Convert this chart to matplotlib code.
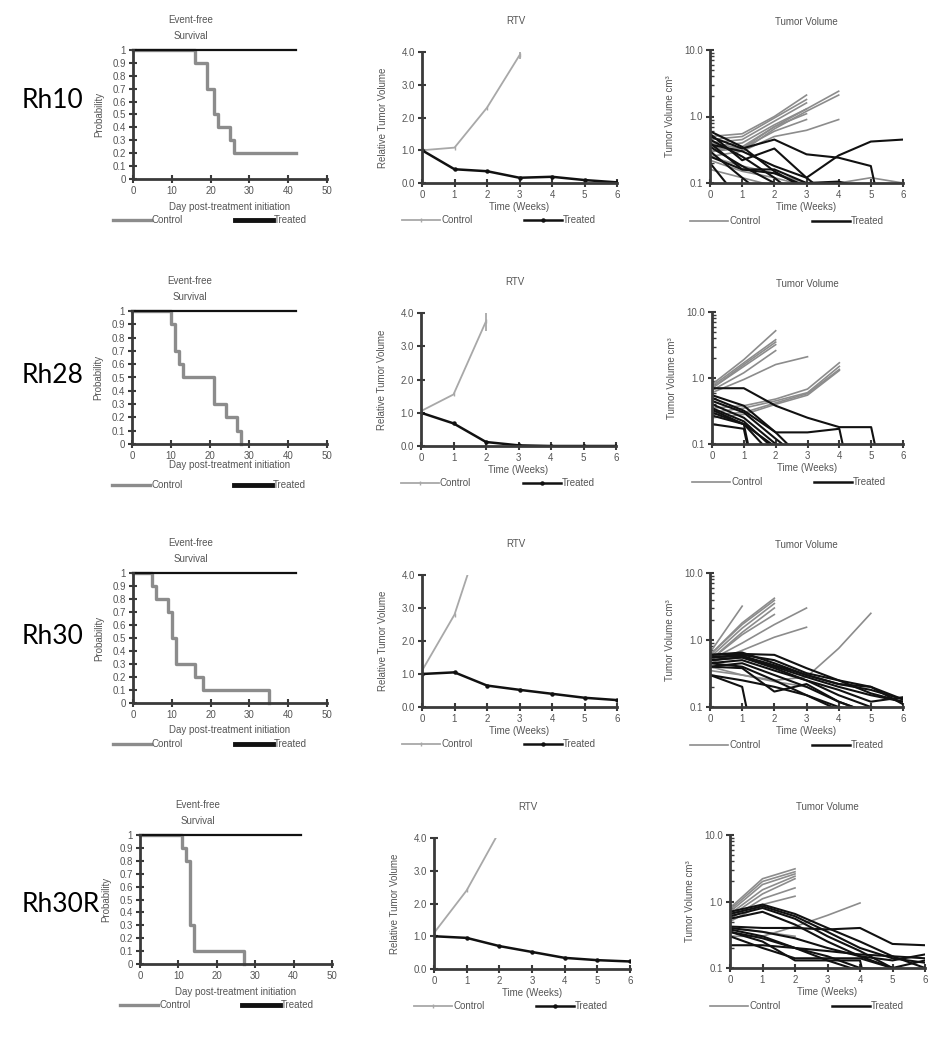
import matplotlib
matplotlib.use('Agg')
import matplotlib.pyplot as plt
from matplotlib.lines import Line2D

plt.rcParams['font.family'] = ['Liberation Sans', 'DejaVu Sans']

W, H = 940, 1050

# ---- data ----
models = ['Rh10', 'Rh28', 'Rh30', 'Rh30R']

# event-free survival (step data: day of event, probability after it)
efs_ctrl_days = [
    [0, 16, 19, 21, 22, 25, 26, 42],
    [0, 10, 11, 12, 13, 21, 24, 27, 28],
    [0, 5, 6, 9, 10, 11, 16, 18, 35],
    [0, 11, 12, 13, 14, 27],
]
efs_ctrl_prob = [
    [1, 0.9, 0.7, 0.5, 0.4, 0.3, 0.2, 0.2],
    [1, 0.9, 0.7, 0.6, 0.5, 0.3, 0.2, 0.1, 0.0],
    [1, 0.9, 0.8, 0.7, 0.5, 0.3, 0.2, 0.1, 0.0],
    [1, 0.9, 0.8, 0.3, 0.1, 0.0],
]
efs_trt_days = [0, 42]
efs_trt_prob = [1, 1]

# relative tumor volume, one value per week
rtv_ctrl = [
    [1.0, 1.08, 2.3, 3.9],
    [1.05, 1.55, 3.75],
    [1.1, 2.8, 5.8],
    [1.1, 2.4, 4.2],
]
rtv_ctrl_err = [0.12, 0.3, 0.0, 0.0]
rtv_trt = [
    [1.0, 0.42, 0.36, 0.16, 0.19, 0.09, 0.02],
    [1.0, 0.68, 0.12, 0.02, 0.0, 0.0, 0.0],
    [1.0, 1.05, 0.65, 0.52, 0.40, 0.28, 0.21],
    [1.0, 0.95, 0.70, 0.52, 0.34, 0.27, 0.23],
]

# individual tumor volumes (cm3), one value per week
tv_ctrl = [
    [[0.5, 0.55, 1.0, 2.1], [0.45, 0.5, 0.95, 1.8], [0.4, 0.45, 0.85, 1.6],
     [0.35, 0.4, 0.75, 1.3], [0.3, 0.35, 0.7, 1.1], [0.3, 0.33, 0.6, 0.9],
     [0.4, 0.33, 0.7, 1.3, 2.4], [0.35, 0.3, 0.65, 1.2, 2.1],
     [0.25, 0.3, 0.5, 0.62, 0.9], [0.22, 0.15, 0.12, 0.09],
     [0.16, 0.12, 0.09], [0.25, 0.18, 0.14, 0.1, 0.1, 0.12, 0.1]],
    [[0.8, 1.9, 5.2], [0.75, 1.7, 3.8], [0.7, 1.6, 3.5], [0.7, 1.5, 3.2],
     [0.65, 1.2, 2.6], [0.6, 0.95, 1.6, 2.1],
     [0.35, 0.38, 0.48, 0.68, 1.7], [0.3, 0.35, 0.45, 0.6, 1.5],
     [0.28, 0.3, 0.42, 0.58, 1.35], [0.25, 0.28, 0.4, 0.55, 1.3]],
    [[0.65, 3.2], [0.6, 1.8, 4.2], [0.6, 1.7, 3.9], [0.55, 1.5, 3.5],
     [0.5, 1.3, 3.0], [0.5, 1.2, 2.4], [0.5, 0.9, 1.7, 3.0],
     [0.45, 0.7, 1.1, 1.55], [0.35, 0.3, 0.25, 0.28, 0.75, 2.5],
     [0.4, 0.3, 0.24, 0.2]],
    [[0.8, 2.2, 3.1], [0.75, 2.0, 2.8], [0.7, 1.8, 2.6], [0.65, 1.5, 2.4],
     [0.6, 1.3, 2.2], [0.55, 1.1, 1.6], [0.5, 0.9, 1.2],
     [0.3, 0.3, 0.42, 0.62, 0.95], [0.4, 0.35, 0.3]],
]
tv_trt = [
    [[0.55, 0.22, 0.33, 0.12, 0.26, 0.42, 0.45], [0.5, 0.33, 0.45, 0.27, 0.24, 0.18, 0.001],
     [0.6, 0.35, 0.15, 0.08], [0.45, 0.25, 0.12, 0.05], [0.4, 0.16, 0.16, 0.1, 0.105, 0.08],
     [0.35, 0.18, 0.1, 0.05], [0.3, 0.12, 0.05], [0.2, 0.05],
     [0.38, 0.3, 0.18, 0.12, 0.05], [0.25, 0.16, 0.14, 0.09]],
    [[0.7, 0.7, 0.38, 0.25, 0.18, 0.18, 0.001], [0.55, 0.38, 0.15, 0.15, 0.17, 0.001],
     [0.5, 0.32, 0.15, 0.05], [0.45, 0.3, 0.12, 0.05], [0.4, 0.25, 0.1, 0.04],
     [0.35, 0.22, 0.08], [0.33, 0.2, 0.09], [0.3, 0.2, 0.06],
     [0.2, 0.17, 0.001], [0.27, 0.2, 0.001]],
    [[0.6, 0.65, 0.45, 0.3, 0.22, 0.18, 0.13], [0.55, 0.6, 0.5, 0.32, 0.25, 0.16, 0.12],
     [0.6, 0.62, 0.6, 0.38, 0.25, 0.2, 0.13], [0.5, 0.55, 0.4, 0.28, 0.2, 0.15, 0.12],
     [0.55, 0.58, 0.42, 0.3, 0.22, 0.2, 0.11], [0.45, 0.5, 0.35, 0.25, 0.18, 0.12, 0.14],
     [0.5, 0.55, 0.38, 0.25, 0.15, 0.1, 0.08], [0.4, 0.45, 0.3, 0.2, 0.12, 0.08],
     [0.4, 0.38, 0.17, 0.22, 0.12, 0.08], [0.45, 0.4, 0.25, 0.15, 0.09],
     [0.3, 0.2, 0.001], [0.3, 0.25, 0.2, 0.15, 0.1, 0.08]],
    [[0.7, 0.9, 0.65, 0.4, 0.25, 0.15, 0.1], [0.65, 0.85, 0.6, 0.35, 0.2, 0.14, 0.12],
     [0.6, 0.8, 0.55, 0.3, 0.18, 0.1, 0.09], [0.55, 0.7, 0.45, 0.25, 0.15, 0.1, 0.08],
     [0.42, 0.4, 0.4, 0.38, 0.4, 0.23, 0.22], [0.4, 0.35, 0.28, 0.2, 0.15, 0.13, 0.16],
     [0.38, 0.3, 0.2, 0.15, 0.1, 0.09], [0.35, 0.28, 0.2, 0.13, 0.09],
     [0.3, 0.2, 0.14, 0.14, 0.14, 0.1, 0.13], [0.22, 0.22, 0.2, 0.18, 0.16, 0.15, 0.14],
     [0.35, 0.25, 0.13, 0.13, 0.13, 0.001]],
]

# ---- layout (pixels: x_left, x_right, y_top, y_bottom) ----
row_label_y = [100, 375, 637, 905]
efs_box = [(133, 327, 50, 179), (132, 327, 311, 444), (133, 327, 573, 703), (140, 332, 835, 964)]
rtv_box = [(422, 617, 52, 183), (421, 616, 313, 446), (422, 617, 575, 707), (434, 630, 838, 969)]
tv_box = [(710, 903, 50, 183), (712, 903, 312, 444), (710, 903, 573, 707), (730, 925, 835, 968)]
efs_xlab = [28, 21, 27, 28]

TXT = '#555555'
AX = '#3a3a3a'
GRAY = '#8c8c8c'
LGRAY = '#a8a8a8'
BLACK = '#111111'

fig = plt.figure(figsize=(9.4, 10.5), dpi=100)


def make_ax(b):
    x0, x1, y0, y1 = b
    ax = fig.add_axes([x0 / W, 1 - y1 / H, (x1 - x0) / W, (y1 - y0) / H])
    for s in ['top', 'right']:
        ax.spines[s].set_visible(False)
    for s in ['left', 'bottom']:
        ax.spines[s].set_color(AX)
        ax.spines[s].set_linewidth(2)
    ax.tick_params(direction='inout', length=6, width=1.5, color=AX,
                   labelsize=7, labelcolor=TXT, pad=2)
    ax.patch.set_alpha(0)
    return ax


def ftext(x, y, s, **kw):
    kw.setdefault('fontsize', 7)
    kw.setdefault('color', TXT)
    fig.text(x / W, 1 - y / H, s, **kw)


def xlabel(b, dy, s):
    x0, x1, y0, y1 = b
    ftext((x0 + x1) / 2, y1 + dy, s, ha='center', va='center')


def legend_row(x0, y, c_kw, t_kw):
    for dx, kw, txt in [(-20, c_kw, 'Control'), (102, t_kw, 'Treated')]:
        xs = [(x0 + dx) / W, (x0 + dx + 19) / W, (x0 + dx + 38) / W]
        fig.add_artist(Line2D(xs, [1 - y / H] * 3, markevery=[1], **kw))
        ftext(x0 + dx + 39, y, txt, ha='left', va='center')


for i, name in enumerate(models):
    # row label
    ftext(22, row_label_y[i], name, fontsize=19, color='black', family=['Lato', 'DejaVu Sans'],
          ha='left', va='center')

    # --- event-free survival ---
    b = efs_box[i]
    ax = make_ax(b)
    ax.step(efs_ctrl_days[i], efs_ctrl_prob[i], where='post', color=GRAY, lw=2.4, clip_on=False)
    ax.step(efs_trt_days, efs_trt_prob, where='post', color=BLACK, lw=1.6, clip_on=False)
    ax.set_xlim(0, 50)
    ax.set_ylim(0, 1)
    ax.set_xticks(range(0, 51, 10))
    ax.set_yticks([k / 10 for k in range(11)])
    ax.set_yticklabels(['0'] + ['%.1f' % (k / 10) for k in range(1, 10)] + ['1'])
    ax.set_ylabel('Probability', fontsize=7, color=TXT)
    ax.yaxis.set_label_coords(-29 / (b[1] - b[0]), 0.5)
    ftext(b[0] + 58, b[2] - 30, 'Event-free', ha='center', va='center')
    ftext(b[0] + 58, b[2] - 14, 'Survival', ha='center', va='center')
    xlabel(b, efs_xlab[i], 'Day post-treatment initiation')
    legend_row(b[0], b[3] + 41, dict(color=GRAY, lw=2.4), dict(color=BLACK, lw=3.5))

    # --- RTV ---
    b = rtv_box[i]
    ax = make_ax(b)
    wc = list(range(len(rtv_ctrl[i])))
    ax.plot(wc, rtv_ctrl[i], color=LGRAY, lw=1.3, marker='|', ms=3)
    if rtv_ctrl_err[i] > 0:
        ax.errorbar(wc[-1], rtv_ctrl[i][-1], yerr=rtv_ctrl_err[i], color=LGRAY, lw=1.3, capsize=0)
    ax.plot(range(len(rtv_trt[i])), rtv_trt[i], color=BLACK, lw=1.8, marker='o', ms=2.2)
    ax.set_xlim(0, 6)
    ax.set_ylim(0, 4)
    ax.set_xticks(range(7))
    ax.set_yticks([0, 1, 2, 3, 4])
    ax.set_yticklabels(['0.0', '1.0', '2.0', '3.0', '4.0'])
    ax.set_ylabel('Relative Tumor Volume', fontsize=7, color=TXT)
    ax.yaxis.set_label_coords(-34 / (b[1] - b[0]), 0.5)
    ftext((b[0] + b[1]) / 2 - 4, b[2] - 31, 'RTV', ha='center', va='center')
    xlabel(b, 24, 'Time (Weeks)')
    legend_row(b[0], b[3] + 37, dict(color=LGRAY, lw=1.3, marker='|', ms=3),
               dict(color=BLACK, lw=1.8, marker='o', ms=2.2))

    # --- tumor volume ---
    b = tv_box[i]
    ax = make_ax(b)
    for v in tv_ctrl[i]:
        ax.plot(range(len(v)), v, color=GRAY, lw=1.2)
    for v in tv_trt[i]:
        ax.plot(range(len(v)), v, color=BLACK, lw=1.5)
    ax.set_yscale('log')
    ax.set_xlim(0, 6)
    ax.set_ylim(0.1, 10)
    ax.set_xticks(range(7))
    ax.set_yticks([0.1, 1, 10])
    ax.set_yticklabels(['0.1', '1.0', '10.0'])
    ax.tick_params(axis='y', which='minor', direction='in', length=3, width=1, color=AX)
    ax.set_ylabel('Tumor Volume cm³', fontsize=7, color=TXT)
    ax.yaxis.set_label_coords(-35 / (b[1] - b[0]), 0.5)
    ftext((b[0] + b[1]) / 2, b[2] - 28, 'Tumor Volume', ha='center', va='center')
    xlabel(b, 24, 'Time (Weeks)')
    legend_row(b[0], b[3] + 38, dict(color=GRAY, lw=1.2), dict(color=BLACK, lw=1.8))

fig.savefig('out.png', dpi=100, facecolor='white')
